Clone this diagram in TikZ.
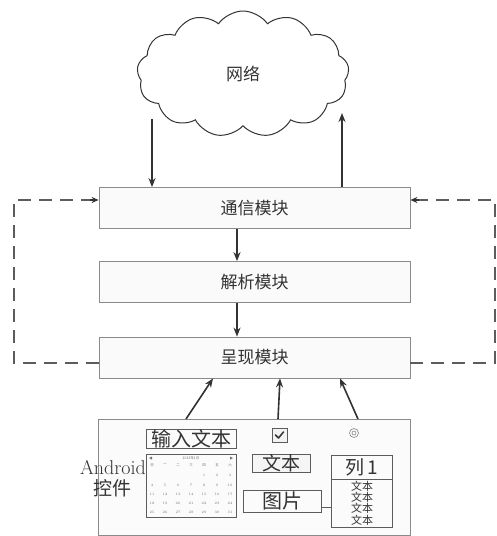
\documentclass[tikz,border=0pt]{standalone}
\usepackage{fontspec}
\newfontfamily\cjk{Noto Sans CJK SC}
\usetikzlibrary{shapes.symbols,arrows.meta}
\definecolor{ink}{HTML}{333333}
\definecolor{edge}{HTML}{8A8A8A}
\tikzset{
  modbox/.style={draw=edge, line width=0.8pt, fill=gray!4, minimum width=311pt, minimum height=41pt, inner sep=0pt, font=\cjk\fontsize{17}{17}\selectfont, text=ink},
  arr/.style={draw=ink, line width=1.6pt, -{Stealth[length=9pt,width=7pt]}},
  loopline/.style={draw=ink!80, line width=1.3pt, dash pattern=on 13pt off 8pt},
  loopend/.style={-{Stealth[length=7pt,width=6pt]}},
  widget/.style={draw=ink!80, line width=0.7pt, inner sep=0pt, text=ink},
  calnum/.style={font=\fontsize{3.5}{3.5}\selectfont, text=ink!70, inner sep=0pt},
}
\begin{document}
\begin{tikzpicture}[x=1pt,y=-1pt]
\useasboundingbox (0,0) rectangle (497,536);
% cloud
\node[cloud, cloud puffs=13, cloud puff arc=110, draw=ink, line width=1pt, fill=white,
      minimum width=212pt, minimum height=126pt, inner sep=0pt,
      font=\cjk\fontsize{17}{17}\selectfont, text=ink] (net) at (243,74) {网络};
% modules
\node[modbox] (m1) at (254.5,208) {通信模块};
\node[modbox] (m2) at (254.5,282) {解析模块};
\node[modbox] (m3) at (254.5,357.5) {呈现模块};
% cloud arrows
\coordinate (cdown) at (152,119);
\coordinate (cup) at (342,113);
\draw[arr] (cdown) -- (m1.north -| cdown);
\draw[arr] (m1.north -| cup) -- (cup);
% module arrows
\draw[arr] (m1.south -| 237,0) -- (m2.north -| 237,0);
\draw[arr] (m2.south -| 237,0) -- (m3.north -| 237,0);
% dashed loops
\coordinate (lt) at (14,200);
\coordinate (lb) at (14,363);
\coordinate (rt) at (495,200);
\coordinate (rb) at (495,363);
\draw[loopline] (m3.west |- lb) -- (lb) -- (lt) -- ([xshift=-8pt]m1.west |- lt);
\draw[ink, line width=1.3pt, loopend] ([xshift=-9pt]m1.west |- lt) -- (m1.west |- lt);
\draw[loopline] (m3.east |- rb) -- (rb) -- (rt) -- ([xshift=8pt]m1.east |- rt);
\draw[ink, line width=1.3pt, loopend] ([xshift=9pt]m1.east |- rt) -- (m1.east |- rt);
% android box
\node[draw=edge, line width=0.8pt, fill=gray!3, minimum width=312pt, minimum height=116pt, inner sep=0pt] (andr) at (254,477) {};
\coordinate (b1) at (186,419);
\coordinate (b2) at (278,419);
\coordinate (b3) at (358,419);
\draw[arr] (b1) -- (m3.south -| 213,0);
\draw[arr] (b2) -- (m3.south -| 280,0);
\draw[arr] (b3) -- (m3.south -| 340,0);
% label
\node[text=ink, font=\fontsize{20}{20}\selectfont, inner sep=0pt] (lbl1) at (113,468) {Android};
\node[text=ink, font=\cjk\fontsize{19}{19}\selectfont, inner sep=0pt] (lbl2) at (112,488) {控件};
% widgets
\node[widget, minimum width=90pt, minimum height=17pt, font=\cjk\fontsize{20}{20}\selectfont] (input) at (191,439) {输入文本};
\node[widget, minimum width=90pt, minimum height=63pt] (cal) at (191,485.5) {};
\node[widget, fill=gray!10, minimum width=15pt, minimum height=14pt] (chk) at (279.5,435) {};
\draw[ink, line width=1.5pt, line cap=round, line join=round] ([shift={(-4,0)}]chk.center) -- ([shift={(-1,3)}]chk.center) -- ([shift={(4,-3)}]chk.center);
\node[draw=ink!60, circle, minimum size=9pt, inner sep=0pt, line width=0.6pt] (radio) at (354,433) {};
\node[draw=ink!60, circle, minimum size=4pt, inner sep=0pt, line width=0.6pt] (radioin) at (radio) {};
\node[widget, fill=gray!8, minimum width=58pt, minimum height=17pt, font=\cjk\fontsize{19}{19}\selectfont] (txt) at (281,463.5) {文本};
\node[widget, minimum width=78pt, minimum height=22pt, font=\cjk\fontsize{20}{20}\selectfont] (pic) at (282,501) {图片};
\node[widget, minimum width=61pt, minimum height=72pt, anchor=north] (list) at (362,455) {};
\node[widget, minimum width=61pt, minimum height=24pt, anchor=north, font=\cjk\fontsize{19}{19}\selectfont] (lhead) at (362,455) {列\,1};
\foreach \yy/\nm in {486.5/la,497.5/lb2,508.5/lc,520.5/ld}
  \node[inner sep=0pt, text=ink, font=\cjk\fontsize{11}{11}\selectfont] (\nm) at (362,\yy) {文本};
\draw[ink!80, line width=0.7pt] (pic.east |- 0,507) -- (list.west |- 0,507);
% calendar contents
\fill[ink!70] (149,458) -- (152,456.5) -- (152,459.5) -- cycle;
\fill[ink!70] (233,458) -- (230,456.5) -- (230,459.5) -- cycle;
\node[calnum, font=\cjk\fontsize{3.5}{3.5}\selectfont] (calhead) at (191,458) {2013年1月};
\foreach \d [count=\i from 0] in {日,一,二,三,四,五,六}
  \node[calnum, font=\cjk\fontsize{3.5}{3.5}\selectfont] at (152+13*\i,465) {\d};
\foreach \d [count=\i from 0] in {1,2,3}
  \node[calnum] at (204+13*\i,475) {\d};
\foreach \r in {0,1,2,3}
  \foreach \c in {0,...,6} {
    \pgfmathtruncatemacro{\n}{4+7*\r+\c}
    \ifnum\n<32
      \node[calnum] at (152+13*\c,485+9*\r) {\n};
    \fi
  }
\end{tikzpicture}
\end{document}
